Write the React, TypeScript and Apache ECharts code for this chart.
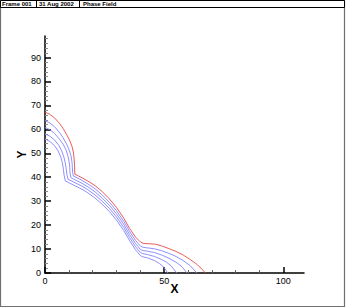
import React, { useEffect, useRef } from 'react';
import * as echarts from 'echarts';

// Axis ticks and labels
const X_MAX = 108.7;
const Y_MAX = 99;
const X_MAJOR = [0, 50, 100];
const X_MINOR = [10, 20, 30, 40, 60, 70, 80, 90];
const Y_MAJOR = [0, 10, 20, 30, 40, 50, 60, 70, 80, 90];
const Y_MINOR = [2, 4, 6, 8, 12, 14, 16, 18, 22, 24, 26, 28, 32, 34, 36, 38, 42, 44, 46, 48, 52, 54, 56, 58, 62, 64, 66, 68, 72, 74, 76, 78, 82, 84, 86, 88, 92, 94, 96, 98];
const HEADER = ['Frame 001', '31 Aug 2002', 'Phase Field'];

// Contours (x, y)
const contourRed: [number, number][] = [
  [0, 67.2], [2, 66.3], [4, 64.8], [6, 62.6], [7.6, 60.4], [9, 58], [10.3, 55.5], [11.3, 53], [11.9, 50.5], [12.2, 48], [12.4, 45], [12.5, 41.3],
  [13.5, 40.8], [15.5, 39.8], [18, 38.4], [21, 36.5], [24, 34], [27, 31], [30, 27.4], [33, 23], [35.5, 18.6], [38, 15], [40, 13], [41.5, 12.3],
  [44, 12.2], [46.5, 12], [49, 11.3], [52, 10.2], [55, 9], [58, 7.5], [61, 5.6], [63.5, 3.8], [65.5, 2], [67.3, 0],
];
const contourBlue1: [number, number][] = [
  [0, 63.6], [2, 62.7], [4, 61.1], [6, 58.8], [7.6, 56.5], [9, 54], [10.1, 51.5], [10.9, 49], [11.3, 46.5], [11.5, 44], [11.6, 42], [11.9, 40.5],
  [13, 40], [15.5, 38.7], [18, 37.2], [21, 35.2], [24, 32.6], [27, 29.6], [30, 26], [33, 21.7], [35.5, 17.4], [38, 13.6], [40, 11.3], [41.2, 10.7],
  [43, 10.5], [46, 10.1], [49, 9.3], [52, 8.2], [55, 6.9], [58, 5.2], [61, 3], [63.7, 0],
];
const contourBlue2: [number, number][] = [
  [0, 60.8], [2, 59.9], [4, 58.3], [6, 56], [7.6, 53.8], [8.8, 51.5], [9.6, 49], [10.1, 46.5], [10.4, 44], [10.5, 41.8], [10.9, 39.8],
  [12, 39.2], [15.5, 37.5], [18, 36], [21, 33.9], [24, 31.3], [27, 28.3], [30, 24.7], [33, 20.4], [35.5, 16.1], [38, 12.3], [40, 9.9], [41, 9.4],
  [43, 9.1], [46, 8.5], [49, 7.5], [52, 6.2], [55, 4.5], [57.5, 2.6], [59.6, 0],
];
const contourBlue3: [number, number][] = [
  [0, 58.1], [2, 57.2], [4, 55.6], [5.8, 53.3], [7, 51], [7.9, 48.5], [8.5, 46], [8.9, 43.5], [9.2, 41.2], [9.7, 39.1],
  [11, 38.5], [15.5, 36.3], [18, 34.8], [21, 32.6], [24, 30], [27, 27], [30, 23.4], [33, 19.1], [35.5, 14.8], [38, 11], [40, 8.6], [41, 8.1],
  [43, 7.7], [46, 6.9], [49, 5.6], [51, 4.5], [53, 2.9], [55.3, 0],
];
const contourBlue4: [number, number][] = [
  [0, 56], [2, 55], [4, 53.2], [5.5, 51], [6.6, 48.5], [7.3, 46], [7.7, 43.5], [8, 41], [8.5, 38.5],
  [10, 37.7], [15.5, 35], [18, 33.5], [21, 31.3], [24, 28.7], [27, 25.7], [30, 22.1], [33, 17.8], [35.5, 13.5], [38, 9.7], [40, 7.3], [41, 6.8],
  [43, 6.3], [46, 5.2], [48, 4], [50, 2.3], [51.5, 0],
];

const RED = '#e84848';
const BLUE = '#8282ff';
const FONT = '"Liberation Sans", Arial, Helvetica, sans-serif';

export default function App() {
  const ref = useRef<HTMLDivElement>(null);
  useEffect(() => {
    if (!ref.current) return;
    const chart = echarts.init(ref.current, undefined, { renderer: 'svg' });
    const lineSeries = (data: [number, number][], color: string) => ({
      type: 'line',
      data,
      showSymbol: false,
      silent: true,
      smooth: false,
      lineStyle: { color, width: 0.9 },
      xAxisIndex: 0,
      yAxisIndex: 0,
    });
    const headerX = [2, 39, 83];
    chart.setOption({
      animation: false,
      backgroundColor: '#ffffff',
      grid: { left: 45, right: 346 - 304, top: 36, bottom: 35, containLabel: false },
      xAxis: [
        {
          type: 'value', min: 0, max: X_MAX, position: 'bottom',
          name: 'X', nameLocation: 'middle', nameGap: 10, nameMoveOverlap: false,
          nameTextStyle: { fontSize: 12, fontWeight: 'bold', color: '#000', fontFamily: FONT },
          axisLine: { show: true, lineStyle: { color: '#000', width: 1.5 } },
          axisTick: { show: true, inside: true, length: 6, lineStyle: { color: '#000', width: 1.5 }, customValues: X_MAJOR },
          axisLabel: { show: true, customValues: X_MAJOR, fontSize: 9, color: '#000', fontFamily: FONT, margin: 3 },
          splitLine: { show: false },
          minorTick: { show: false },
        },
        {
          type: 'value', min: 0, max: X_MAX, position: 'bottom',
          axisLine: { show: false },
          axisTick: { show: true, inside: true, length: 3, lineStyle: { color: '#666', width: 1 }, customValues: X_MINOR },
          axisLabel: { show: false },
          splitLine: { show: false },
        },
      ],
      yAxis: [
        {
          type: 'value', min: 0, max: Y_MAX, position: 'left',
          name: 'Y', nameLocation: 'middle', nameGap: 17, nameRotate: 90, nameMoveOverlap: false,
          nameTextStyle: { fontSize: 12, fontWeight: 'bold', color: '#000', fontFamily: FONT },
          axisLine: { show: true, lineStyle: { color: '#000', width: 1.5 } },
          axisTick: { show: true, inside: true, length: 6, lineStyle: { color: '#000', width: 1.5 }, customValues: Y_MAJOR },
          axisLabel: { show: true, customValues: Y_MAJOR, fontSize: 9, color: '#000', fontFamily: FONT, margin: 4 },
          splitLine: { show: false },
          minorTick: { show: false },
        },
        {
          type: 'value', min: 0, max: Y_MAX, position: 'left',
          axisLine: { show: false },
          axisTick: { show: true, inside: true, length: 3, lineStyle: { color: '#888', width: 1 }, customValues: Y_MINOR },
          axisLabel: { show: false },
          splitLine: { show: false },
        },
      ],
      series: [
        lineSeries(contourBlue4, BLUE),
        lineSeries(contourBlue3, BLUE),
        lineSeries(contourBlue2, BLUE),
        lineSeries(contourBlue1, BLUE),
        lineSeries(contourRed, RED),
      ],
      graphic: [
        { type: 'rect', shape: { x: 0.5, y: 0.5, width: 344, height: 306 }, style: { fill: 'none', stroke: '#707070', lineWidth: 1.2 }, silent: true },
        { type: 'rect', shape: { x: 0.5, y: 0.5, width: 344, height: 7 }, style: { fill: '#fff', stroke: '#000', lineWidth: 1 }, silent: true },
        { type: 'line', shape: { x1: 36.5, y1: 0.5, x2: 36.5, y2: 7.5 }, style: { stroke: '#000', lineWidth: 1 }, silent: true },
        { type: 'line', shape: { x1: 79.5, y1: 0.5, x2: 79.5, y2: 7.5 }, style: { stroke: '#000', lineWidth: 1 }, silent: true },
        ...HEADER.map((t, i) => ({
          type: 'text', x: headerX[i], y: 4.3, silent: true,
          style: { text: t, fill: '#000', font: `bold 6px ${FONT}`, verticalAlign: 'middle', align: 'left' },
        })),
      ],
    });
    return () => chart.dispose();
  }, []);
  return (
    <div
      ref={ref}
      style={{ position: 'absolute', left: 0, top: 0, width: 346, height: 308, background: '#fff' }}
    />
  );
}
